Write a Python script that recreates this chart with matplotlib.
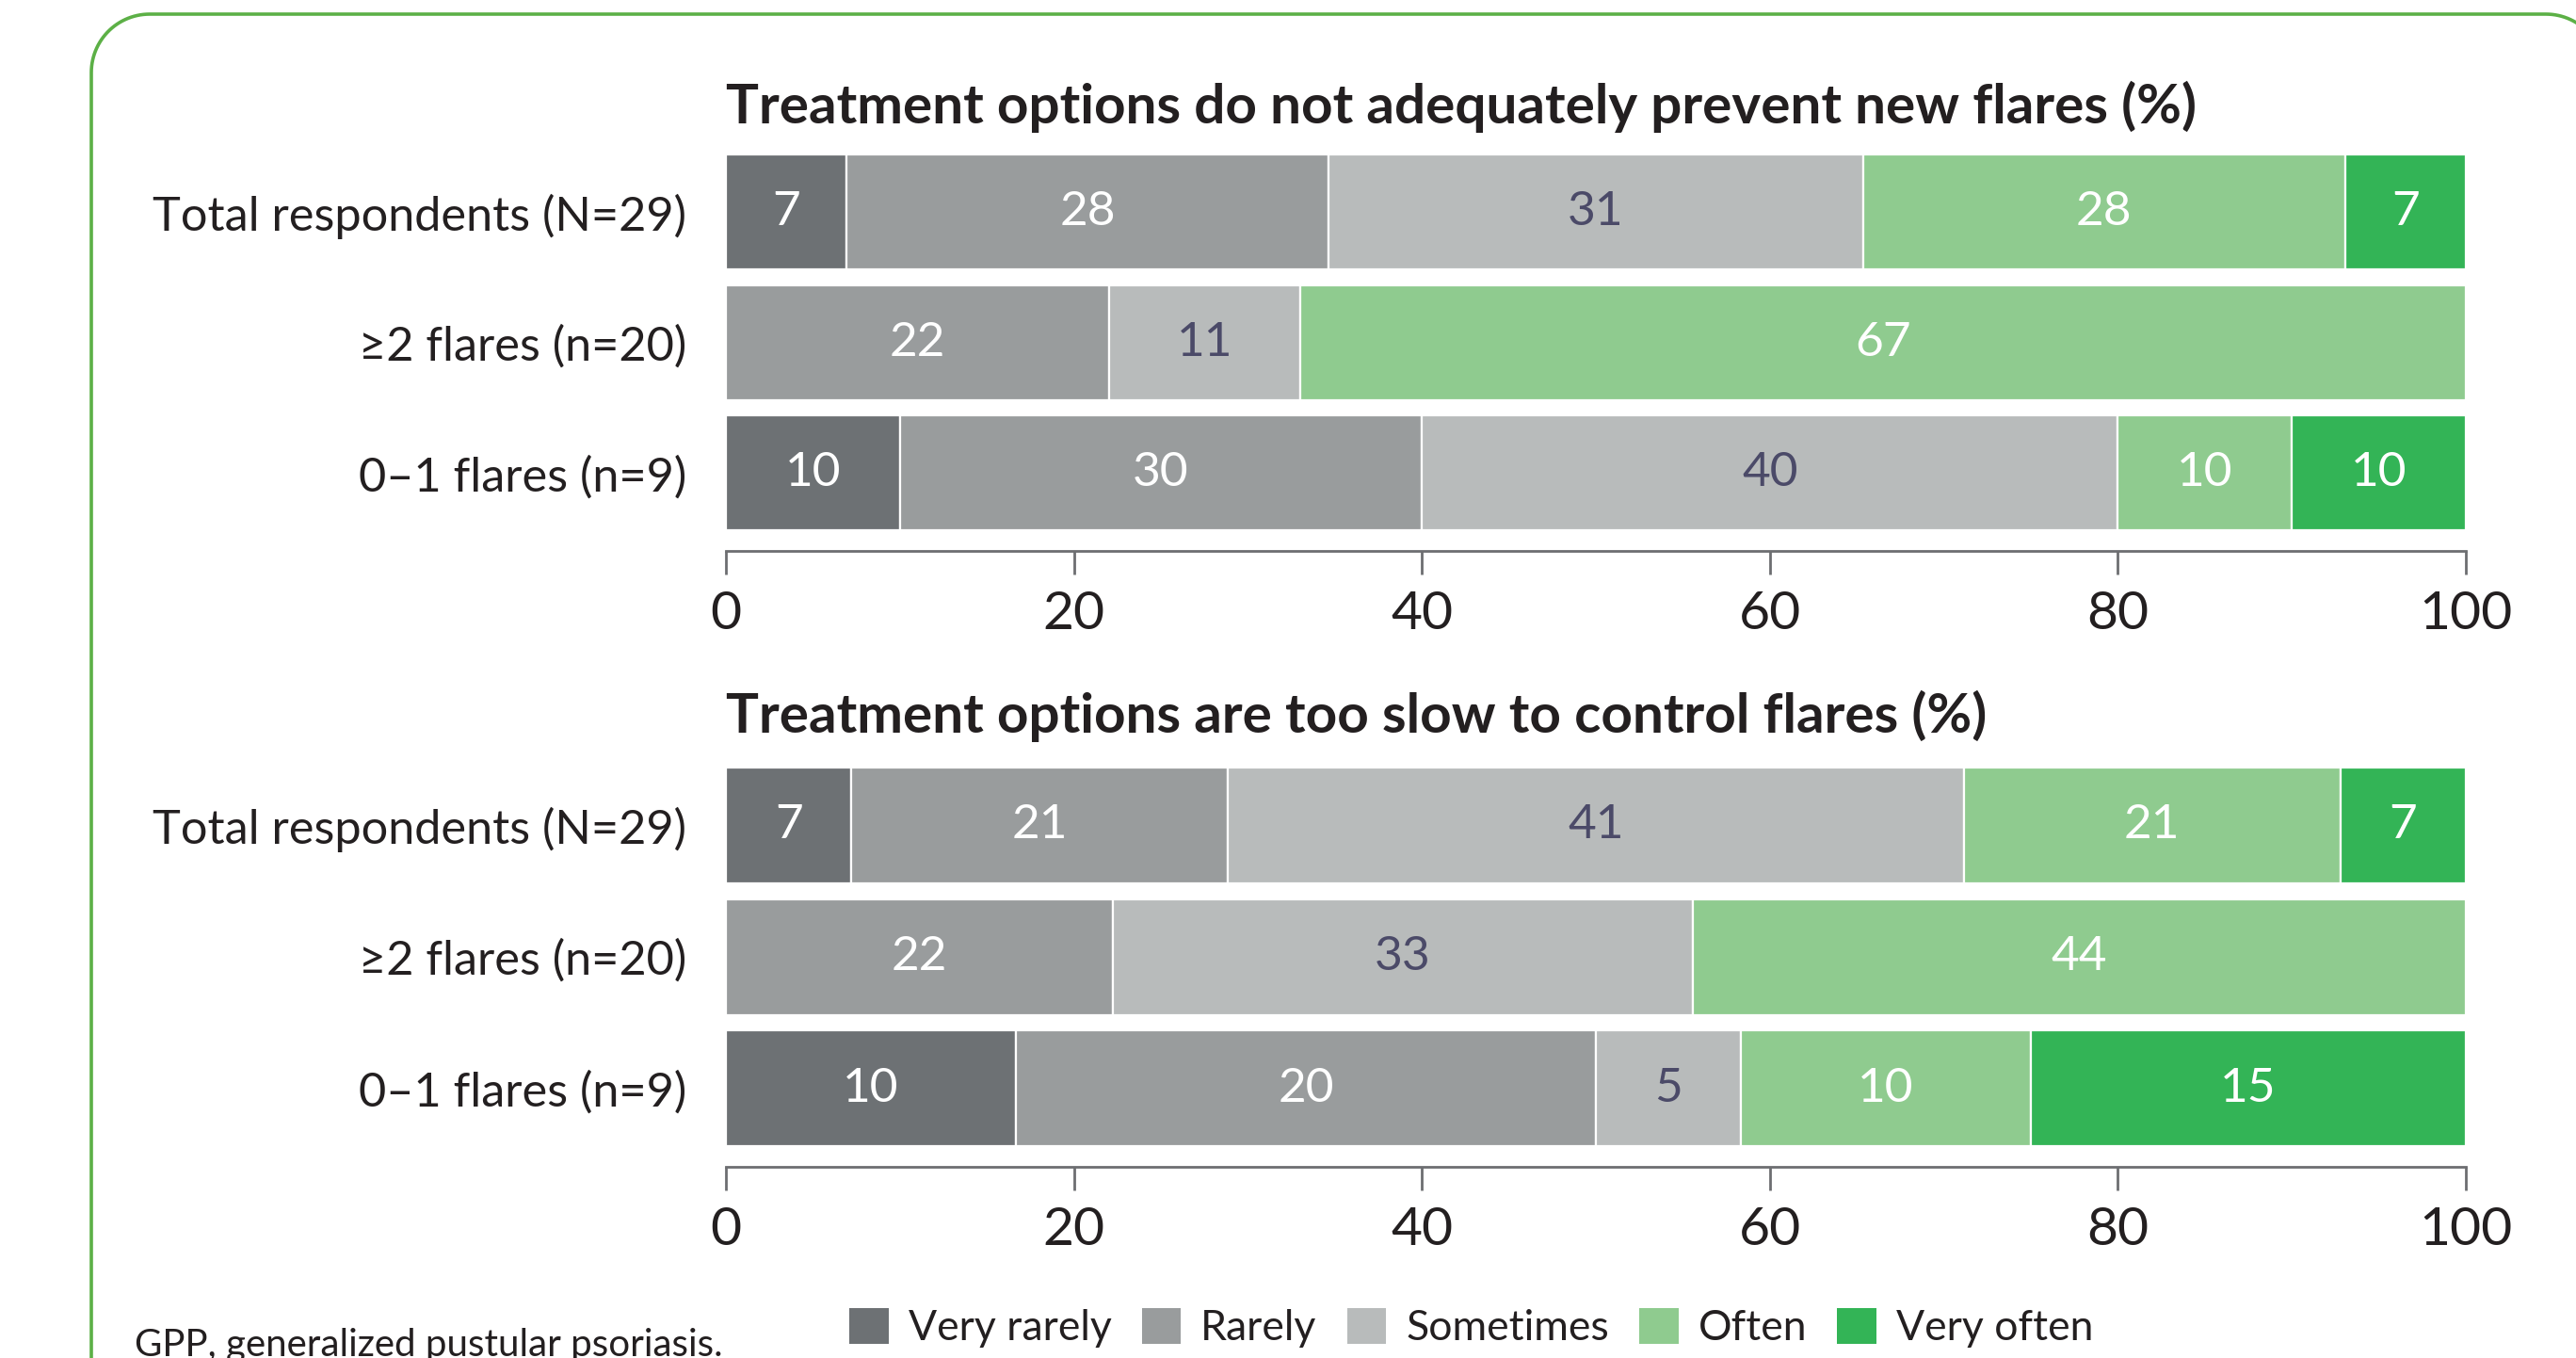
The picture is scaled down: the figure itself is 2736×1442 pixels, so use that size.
import numpy as np
import matplotlib
matplotlib.use("Agg")
import matplotlib.pyplot as plt
from matplotlib.lines import Line2D
from matplotlib.patches import Patch

plt.rcParams["font.family"] = ["Lato", "DejaVu Sans"]

CATEGORIES = ["Very rarely", "Rarely", "Sometimes", "Often", "Very often"]
COLORS = ["#6d7174", "#999c9d", "#b8bbbb", "#8fcb8f", "#33b456"]
LABEL_COLORS = ["white", "white", "#4b4a68", "white", "white"]

GROUPS = ["Total respondents (N=29)", "\u22652 flares (n=20)", "0\u20131 flares (n=9)"]

TITLE_PREVENT = "Treatment options do not adequately prevent new flares (%)"
PREVENT = [
    [7, 28, 31, 28, 7],
    [0, 22, 11, 67, 0],
    [10, 30, 40, 10, 10],
]

TITLE_SLOW = "Treatment options are too slow to control flares (%)"
SLOW = [
    [7, 21, 41, 21, 7],
    [0, 22, 33, 44, 0],
    [10, 20, 5, 10, 15],
]

FOOTNOTE = "GPP, generalized pustular psoriasis."
XTICKS = [0, 20, 40, 60, 80, 100]

TEXT = "#231f20"
AXIS = "#6d6e71"
BORDER = "#5cb046"

W, H, DPI = 2736, 1442, 200


def draw_panel(ax, values):
    vals = np.array(values, dtype=float)
    # bars are drawn scaled to 100% even when the rounded values don't add up
    widths = vals / vals.sum(axis=1, keepdims=True) * 100
    y = np.arange(len(GROUPS))
    left = np.zeros(len(GROUPS))
    for j, cat in enumerate(CATEGORIES):
        w = widths[:, j]
        mask = vals[:, j] > 0
        ax.barh(y[mask], w[mask], left=left[mask], height=0.88,
                color=COLORS[j], edgecolor="white", linewidth=0.8)
        for i in np.where(mask)[0]:
            ax.text(left[i] + w[i] / 2, y[i], f"{int(vals[i, j])}",
                    ha="center", va="center", fontsize=18.5,
                    color=LABEL_COLORS[j])
        left = left + w

    ax.set_xlim(0, 100)
    ax.set_ylim(2.595, -0.44)
    ax.set_yticks(y)
    ax.set_yticklabels(GROUPS, fontsize=18.2, color=TEXT)
    ax.tick_params(axis="y", length=0, pad=15)
    ax.set_xticks(XTICKS)
    ax.set_xticklabels([str(t) for t in XTICKS], fontsize=20.5, color=TEXT)
    ax.tick_params(axis="x", direction="out", length=9, width=1.0,
                   color=AXIS, pad=6)
    for s in ["top", "right", "left"]:
        ax.spines[s].set_visible(False)
    ax.spines["bottom"].set_color(AXIS)
    ax.spines["bottom"].set_linewidth(1.0)


def draw_frame(fig):
    # rounded green frame (pixel units), runs off the right and bottom edges
    x0, x1, top, r = 97, 2766, H - 15, 62
    a = np.linspace(np.pi, np.pi / 2, 30)
    b = np.linspace(np.pi / 2, 0, 30)
    xs = np.concatenate([[x0], x0 + r + r * np.cos(a), x1 - r + r * np.cos(b), [x1]])
    ys = np.concatenate([[-50], top - r + r * np.sin(a), top - r + r * np.sin(b), [-50]])
    line = Line2D(xs / DPI, ys / DPI, transform=fig.dpi_scale_trans,
                  color=BORDER, linewidth=1.3, solid_capstyle="butt")
    fig.add_artist(line)


fig = plt.figure(figsize=(W / DPI, H / DPI), dpi=DPI)
draw_frame(fig)

left = 771 / W
width = (2619 - 771) / W
ax_top = fig.add_axes([left, 1 - 585 / H, width, (585 - 164) / H])
ax_bot = fig.add_axes([left, 1 - 1239 / H, width, (1239 - 815) / H])

draw_panel(ax_top, PREVENT)
draw_panel(ax_bot, SLOW)

fig.text(left, 1 - 131 / H, TITLE_PREVENT, fontsize=21, fontweight="bold",
         color=TEXT, ha="left", va="baseline")
fig.text(left, 1 - 778 / H, TITLE_SLOW, fontsize=21, fontweight="bold",
         color=TEXT, ha="left", va="baseline")

handles = [Patch(facecolor=c, edgecolor="none") for c in COLORS]
fig.legend(handles, CATEGORIES, loc="center left",
           bbox_to_anchor=(902 / W, 1 - 1410 / H), ncol=5, frameon=False,
           fontsize=16, handlelength=0.94, handleheight=0.94,
           handletextpad=0.47, columnspacing=0.72, borderpad=0,
           borderaxespad=0, labelcolor=TEXT)

fig.text(143 / W, 1 - 1440 / H, FOOTNOTE, fontsize=14.5, color=TEXT,
         ha="left", va="baseline")

fig.savefig("out.png", dpi=DPI, facecolor="white")
plt.close(fig)
